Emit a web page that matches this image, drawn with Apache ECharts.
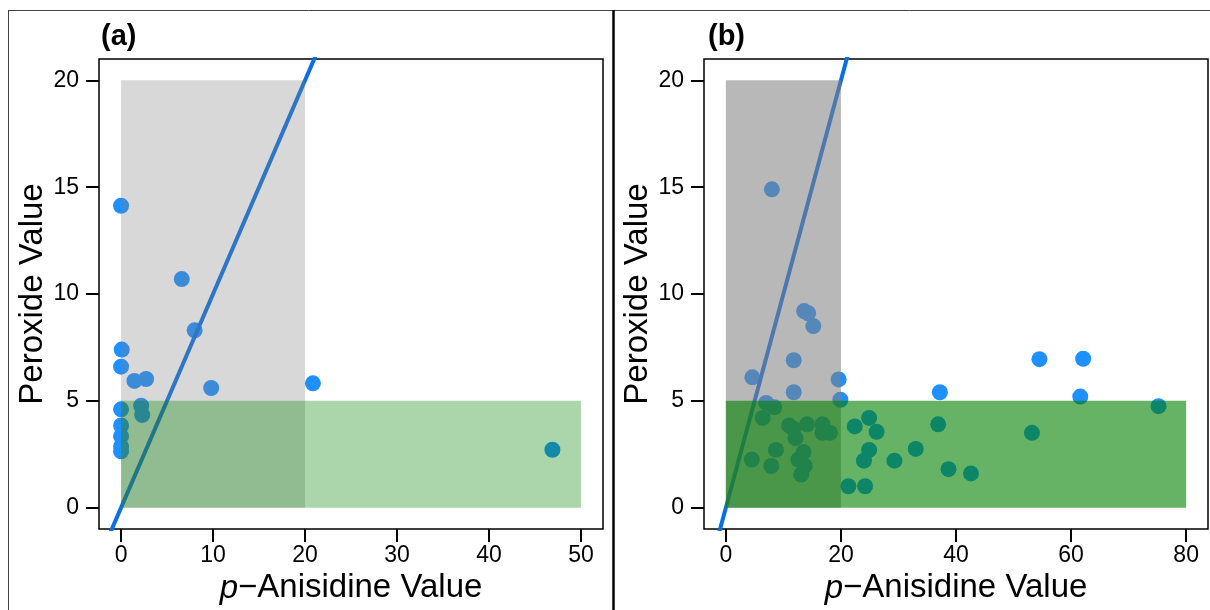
<!DOCTYPE html>
<html><head><meta charset="utf-8">
<script src="https://cdn.jsdelivr.net/npm/echarts@6/dist/echarts.min.js"></script>
<style>html,body{margin:0;padding:0;background:#fff}#c{width:1210px;height:610px}</style>
</head><body><div id="c"></div>
<script>
// ---- data ----
const panelTitles = ['(a)', '(b)'];
const yTicks = [0, 5, 10, 15, 20];
const xTicksA = [0, 10, 20, 30, 40, 50];
const xTicksB = [0, 20, 40, 60, 80];
const xTitle = '{i|p}\u2212Anisidine Value';
const yTitle = 'Peroxide Value';
// [p-Anisidine, Peroxide]
const pointsA = [
  [0, 14.13], [6.6, 10.7], [8.0, 8.3], [0.07, 7.4], [0, 6.6],
  [1.45, 5.93], [2.72, 6.02], [9.8, 5.6], [20.86, 5.82],
  [0, 4.6], [2.18, 4.77], [2.3, 4.34],
  [0, 3.85], [0, 3.34], [0, 2.87], [0, 2.64],
  [46.9, 2.71]
];
const pointsB = [
  [8.0, 14.9], [13.6, 9.2], [14.3, 9.1], [15.2, 8.5], [11.8, 6.9],
  [4.6, 6.1], [19.6, 6.0], [11.8, 5.4], [19.9, 5.05], [7.0, 4.9],
  [8.4, 4.7], [6.4, 4.2], [11.0, 3.85], [11.7, 3.7], [14.1, 3.9],
  [16.8, 3.9], [18.1, 3.5], [16.8, 3.5], [12.1, 3.25], [8.7, 2.7],
  [13.5, 2.6], [4.5, 2.25], [12.6, 2.25], [13.7, 1.95], [7.9, 1.95],
  [13.1, 1.55], [21.3, 1.0], [24.2, 1.0], [22.4, 3.8], [24.9, 4.2],
  [26.2, 3.55], [24.9, 2.7], [24.0, 2.2], [29.3, 2.2], [33.0, 2.75],
  [36.9, 3.9], [37.2, 5.4], [38.7, 1.8], [42.6, 1.6], [54.5, 6.95],
  [62.1, 6.97], [53.2, 3.5], [61.6, 5.2], [75.2, 4.75]
];
// threshold boxes [x0, y0, x1, y1]
const greyBoxA = [[0, 0, 20, 20]];
const greenBoxA = [[0, 0, 50, 5]];
const greyBoxB = [[0, 0, 20, 20]];
const greenBoxB = [[0, 0, 80, 5]];
// reference line y = x
const refLine = [[-5, -5], [30, 30]];

// ---- chart ----
const FONT = 'Liberation Sans, Arial, sans-serif';
const chart = echarts.init(document.getElementById('c'), null, {renderer: 'canvas'});

function xAxisCfg(idx, ticks, min, max) {
  return {
    gridIndex: idx, type: 'value', min: min, max: max,
    axisLine: {show: false, onZero: false},
    splitLine: {show: false},
    axisTick: {show: true, customValues: ticks, length: 13, inside: false,
      lineStyle: {color: '#000', width: 2}},
    axisLabel: {customValues: ticks, margin: 15, fontSize: 23, color: '#000', fontFamily: FONT},
    name: xTitle, nameLocation: 'middle', nameGap: 39,
    nameTextStyle: {fontSize: 33, color: '#000', fontFamily: FONT,
      rich: {i: {fontStyle: 'italic', fontSize: 33, color: '#000', fontFamily: FONT}}}
  };
}
function yAxisCfg(idx) {
  return {
    gridIndex: idx, type: 'value', min: -1, max: 21,
    axisLine: {show: false, onZero: false},
    splitLine: {show: false},
    axisTick: {show: true, customValues: yTicks, length: 13, inside: false,
      lineStyle: {color: '#000', width: 2}},
    axisLabel: {customValues: yTicks, margin: 20, fontSize: 23, color: '#000', fontFamily: FONT},
    name: yTitle, nameLocation: 'middle', nameGap: 47,
    nameTextStyle: {fontSize: 33, color: '#000', fontFamily: FONT}
  };
}
function rectSeries(idx, data, color, z) {
  return {
    type: 'custom', xAxisIndex: idx, yAxisIndex: idx, z: z, silent: true,
    data: data, encode: {x: [0, 2], y: [1, 3]},
    renderItem: function (params, api) {
      const p0 = api.coord([api.value(0), api.value(1)]);
      const p1 = api.coord([api.value(2), api.value(3)]);
      return {type: 'rect',
        shape: {x: p0[0], y: p1[1], width: p1[0] - p0[0], height: p0[1] - p1[1]},
        style: {fill: color}};
    }
  };
}
function scatterSeries(idx, data) {
  return {type: 'scatter', xAxisIndex: idx, yAxisIndex: idx, z: 2, data: data,
    symbolSize: 16, itemStyle: {color: '#1e90ff', opacity: 1}};
}
function lineSeries(idx) {
  return {type: 'line', xAxisIndex: idx, yAxisIndex: idx, z: 3, data: refLine,
    showSymbol: false, clip: true, lineStyle: {color: '#0a6ee6', width: 4}};
}

const option = {
  backgroundColor: '#fff',
  animation: false,
  title: [
    {text: panelTitles[0], left: 96, top: 17, textStyle: {fontSize: 29, fontWeight: 'bold', color: '#000', fontFamily: FONT}},
    {text: panelTitles[1], left: 703, top: 17, textStyle: {fontSize: 29, fontWeight: 'bold', color: '#000', fontFamily: FONT}}
  ],
  grid: [
    {left: 99, top: 59, width: 504, height: 470, show: true, borderColor: '#000', borderWidth: 1.5, backgroundColor: 'transparent'},
    {left: 704, top: 59, width: 504, height: 470, show: true, borderColor: '#000', borderWidth: 1.5, backgroundColor: 'transparent'}
  ],
  xAxis: [xAxisCfg(0, xTicksA, -2.4, 52.4), xAxisCfg(1, xTicksB, -3.8, 83.8)],
  yAxis: [yAxisCfg(0), yAxisCfg(1)],
  series: [
    scatterSeries(0, pointsA),
    lineSeries(0),
    rectSeries(0, greyBoxA, 'rgba(128,128,128,0.31)', 4),
    rectSeries(0, greenBoxA, 'rgba(0,128,0,0.33)', 5),
    scatterSeries(1, pointsB),
    lineSeries(1),
    rectSeries(1, greyBoxB, 'rgba(128,128,128,0.56)', 4),
    rectSeries(1, greenBoxB, 'rgba(0,128,0,0.6)', 5)
  ],
  graphic: [
    {type: 'line', silent: true, z: 100, shape: {x1: 8, y1: 10.5, x2: 1210, y2: 10.5}, style: {stroke: '#444', lineWidth: 1}},
    {type: 'line', silent: true, z: 100, shape: {x1: 8.5, y1: 10, x2: 8.5, y2: 610}, style: {stroke: '#444', lineWidth: 1}},
    {type: 'line', silent: true, z: 100, shape: {x1: 613.5, y1: 10, x2: 613.5, y2: 610}, style: {stroke: '#000', lineWidth: 2.5}}
  ]
};
chart.setOption(option);
</script>
</body></html>
